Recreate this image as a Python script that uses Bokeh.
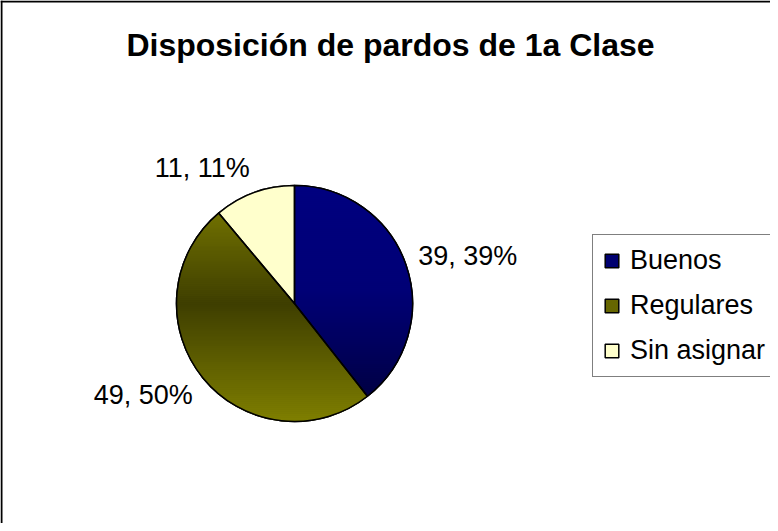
import numpy as np
from bokeh.plotting import figure
from bokeh.models import Range1d, Span, Label, ColumnDataSource
from bokeh.core.properties import value
from bokeh.embed import file_html
from bokeh.resources import INLINE

# ---- data ----
categories = ["Buenos", "Regulares", "Sin asignar"]
counts = [39, 49, 11]
percent_labels = [39, 50, 11]
title_text = "Disposición de pardos de 1a Clase"

# ---- layout (canvas pixels, y up) ----
W, H = 770, 523
def px(x):
    return x - 8
def py(y):
    return (H + 8) - y

CX, CY, R = px(302), py(311), 118
FONT = "Liberation Sans"
base_colors = ["#000070", "#666600", "#FFFFCC"]

def buenos_col(t):
    stops_t = [0.0, 0.45, 0.75, 1.0]
    stops_b = [128, 118, 85, 52]
    b = np.interp(t, stops_t, stops_b)
    return "#%02x%02x%02x" % (0, 0, int(b))

def regulares_col(t):
    v = np.interp(t, [0.0, 0.5, 1.0], [128, 62, 128])
    return "#%02x%02x%02x" % (int(v), int(v), 0)

def sin_col(t):
    return "#FFFFCC"

profiles = [buenos_col, regulares_col, sin_col]

p = figure(width=W, height=H, output_backend="svg", toolbar_location=None,
           x_range=Range1d(0, W), y_range=Range1d(0, H), min_border=0)
p.axis.visible = False
p.grid.visible = False
p.outline_line_color = None

total = float(sum(counts))
fracs = [c / total for c in counts]
cum = np.concatenate([[0.0], np.cumsum(fracs)])
starts = [np.pi / 2 - 2 * np.pi * cum[i] for i in range(len(counts))]
ends = [np.pi / 2 - 2 * np.pi * cum[i + 1] for i in range(len(counts))]

src = ColumnDataSource(dict(category=categories, count=counts, start=starts,
                            end=ends, color=base_colors))

# base wedges (also used for legend)
p.wedge(x=CX, y=CY, radius=R, start_angle="start", end_angle="end",
        direction="clock", fill_color="color", line_color="black",
        line_width=1.5, source=src, legend_field="category")

# gradient bands clipped to each wedge
def clip_half(pts, keep, yc):
    out = []
    n = len(pts)
    for i in range(n):
        cur = pts[i]
        prev = pts[i - 1]
        cin, pin = keep(cur), keep(prev)
        if cin:
            if not pin:
                t = (yc - prev[1]) / (cur[1] - prev[1])
                out.append((prev[0] + t * (cur[0] - prev[0]), yc))
            out.append(cur)
        elif pin:
            t = (yc - prev[1]) / (cur[1] - prev[1])
            out.append((prev[0] + t * (cur[0] - prev[0]), yc))
    return out

xs, ys, cols = [], [], []
band = 2.0
for k in range(len(counts)):
    a = np.linspace(starts[k], ends[k], 240)
    poly = [(CX, CY)] + [(CX + R * np.cos(t), CY + R * np.sin(t)) for t in a]
    y = CY - R
    while y < CY + R:
        y0, y1 = y, y + band
        pts = clip_half(poly, lambda q: q[1] >= y0, y0)
        if pts:
            pts = clip_half(pts, lambda q: q[1] <= y1, y1)
        if len(pts) >= 3:
            tt = ((CY + R) - (y0 + y1) / 2) / (2 * R)
            xs.append([q[0] for q in pts])
            ys.append([q[1] for q in pts])
            cols.append(profiles[k](tt))
        y += band

p.patches(xs=xs, ys=ys, fill_color=cols, line_color=cols, line_width=0.6)

# outlines on top
p.wedge(x=CX, y=CY, radius=R, start_angle="start", end_angle="end",
        direction="clock", fill_alpha=0, line_color="black",
        line_width=1.5, source=src)

# data labels
D = 131
lx, ly, ltxt, lalign = [], [], [], []
for k in range(len(counts)):
    th = np.pi / 2 - 2 * np.pi * (cum[k] + fracs[k] / 2)
    ux, uy = np.cos(th), np.sin(th)
    lx.append(CX + D * ux)
    ly.append(CY + D * uy + 13.5 * uy)
    ltxt.append(f"{counts[k]}, {percent_labels[k]}%")
    lalign.append("left" if ux > 0 else "right")
lsrc = ColumnDataSource(dict(x=lx, y=ly, text=ltxt, align=lalign))
p.text(x="x", y="y", text="text", text_align="align", text_baseline="middle",
       text_font=value(FONT), text_font_size=value("27px"),
       text_color="black", source=lsrc)

# title
p.add_layout(Label(x=px(398), y=py(52), text=title_text, text_align="center",
                   text_baseline="middle", text_font=FONT,
                   text_font_size="32px", text_font_style="bold",
                   text_color="black"))

# chart border (left & top visible)
p.add_layout(Span(location=px(9), dimension="height", line_color="black", line_width=2))
p.add_layout(Span(location=py(9), dimension="width", line_color="black", line_width=2))

# legend
lg = p.legend[0]
lg.location = (px(600), py(385))
lg.label_text_font = FONT
lg.label_text_font_size = "27px"
lg.label_text_color = "black"
lg.glyph_width = 17
lg.glyph_height = 17
lg.label_standoff = 10
lg.label_height = 31
lg.spacing = 14
lg.padding = 10
lg.margin = 0
lg.border_line_color = "black"
lg.border_line_width = 1
lg.background_fill_alpha = 1

open("out.html", "w").write(file_html(p, INLINE))
